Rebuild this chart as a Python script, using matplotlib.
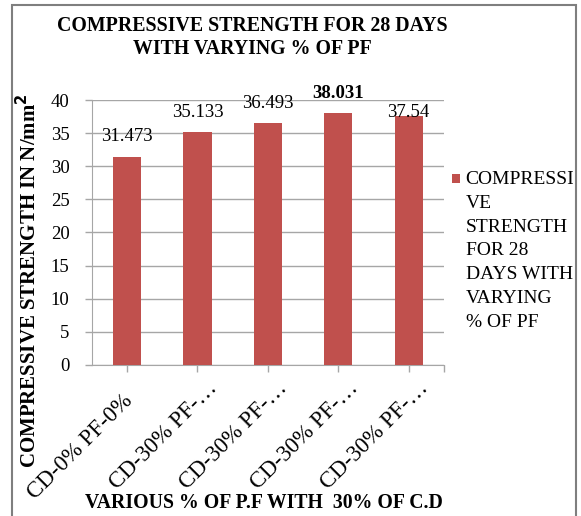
import numpy as np
import matplotlib.pyplot as plt
from matplotlib.patches import Rectangle
from matplotlib.legend_handler import HandlerPatch, update_from_first_child

plt.rcParams['font.family'] = ['Liberation Serif', 'DejaVu Serif']

categories = ['CD-0% PF-0%', 'CD-30% PF-…', 'CD-30% PF-…', 'CD-30% PF-…', 'CD-30% PF-…']
values = [31.473, 35.133, 36.493, 38.031, 37.54]
value_labels = ['31.473', '35.133', '36.493', '38.031', '37.54']
yticks = [0, 5, 10, 15, 20, 25, 30, 35, 40]
series_name = 'COMPRESSI\nVE\nSTRENGTH\nFOR 28\nDAYS WITH\nVARYING\n% OF PF'

bar_color = '#C0504D'
grid_color = '#A6A6A6'
# label gap above each bar (the last one sits lower in the original)
label_gap = [3.0, 3.0, 3.0, 3.0, 0.6]

fig = plt.figure(figsize=(5.81, 5.16), dpi=100)
ax = fig.add_axes([0.158, 0.293, 0.606, 0.513])

x = np.arange(len(values))
bars = ax.bar(x, values, width=0.4, color=bar_color, zorder=3, label=series_name)

ax.set_ylim(0, 40)
ax.set_xlim(-0.5, len(values) - 0.5)
ax.set_yticks(yticks)
ax.set_yticklabels([str(t) for t in yticks], fontsize=13.5)
ax.yaxis.grid(True, color=grid_color, linewidth=1)
ax.set_axisbelow(True)

ax.set_xticks(list(x) + [len(values) - 0.5])
ax.set_xticklabels([])
ax.tick_params(axis='x', length=5, color=grid_color, width=1)
ax.tick_params(axis='y', length=5, color=grid_color, width=1, pad=11)
for i, lab in enumerate(categories):
    # truncated labels sit a bit further along than the full one
    if lab.endswith('…'):
        dx, y0 = 0.13, -2.0
    else:
        dx, y0 = -0.07, -3.9
    ax.text(i + dx, y0, lab, rotation=45, ha='right', va='top',
            fontsize=16.5, rotation_mode='anchor')

for s in ['top', 'right']:
    ax.spines[s].set_visible(False)
for s in ['left', 'bottom']:
    ax.spines[s].set_color(grid_color)

for i, (v, lab) in enumerate(zip(values, value_labels)):
    weight = 'bold' if i == 3 else 'normal'
    ax.text(i, v + label_gap[i], lab, ha='center', va='center', fontsize=13.5, fontweight=weight)

fig.text(0.049, 0.457, 'COMPRESSIVE STRENGTH IN N/mm$^\\mathbf{2}$', rotation=90, ha='center',
         va='center', fontsize=15, fontweight='bold')
fig.text(0.454, 0.025, 'VARIOUS % OF P.F WITH  30% OF C.D', ha='center', va='center',
         fontsize=14.2, fontweight='bold')
fig.text(0.435, 0.928, 'COMPRESSIVE STRENGTH FOR 28 DAYS\nWITH VARYING % OF PF', ha='center',
         va='center', fontsize=14.3, fontweight='bold', linespacing=1.2)


def top_square(legend, orig_handle, xdescent, ydescent, width, height, fontsize):
    # put the square beside the first line of the wrapped label
    shift = 3.7 * fontsize
    return Rectangle((-xdescent, -ydescent + shift), width, height)


leg = ax.legend(loc='center left', bbox_to_anchor=(452 / 581, 0.5136),
                bbox_transform=fig.transFigure, frameon=False, fontsize=14,
                handlelength=0.4, handleheight=0.4, handletextpad=0.3,
                borderpad=0, borderaxespad=0,
                handler_map={bars: HandlerPatch(patch_func=top_square,
                                                update_func=update_from_first_child)})
leg.get_texts()[0].set_linespacing(1.52)

fig.patches.append(Rectangle((0.021, -0.01), 0.97, 1.0, transform=fig.transFigure,
                             fill=False, edgecolor='#7F7F7F', linewidth=1.5))

fig.savefig('out.png', dpi=100)
